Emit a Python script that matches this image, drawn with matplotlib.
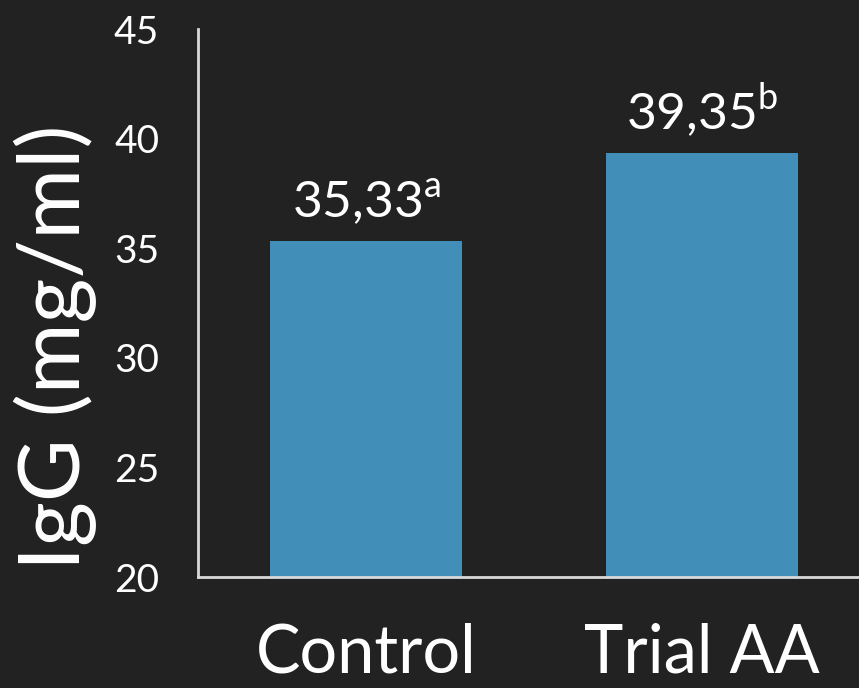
import numpy as np
import matplotlib.pyplot as plt

# data
groups = ['Control', 'Trial AA']
igg = [35.33, 39.35]
labels = ['35,33', '39,35']
letters = ['a', 'b']
yticks = [20, 25, 30, 35, 40, 45]

bg = '#222222'
bar_color = '#418FB8'
fg = 'white'

plt.rcParams['font.family'] = ['Lato', 'DejaVu Sans']
plt.rcParams['mathtext.fontset'] = 'custom'
plt.rcParams['mathtext.rm'] = 'Lato'

fig = plt.figure(figsize=(8.59, 6.88), dpi=100, facecolor=bg)
ax = fig.add_axes([198/859, (688-577)/688, (870-198)/859, (577-29)/688])
ax.set_facecolor(bg)

x = np.arange(len(groups))
ax.bar(x, igg, width=0.57, color=bar_color, zorder=2)

for xi, v, lab, let in zip(x, igg, labels, letters):
    ax.annotate(lab + r'$^{\mathrm{' + let + '}}$', (xi, v), xytext=(0, 16.5),
                textcoords='offset points', ha='center', va='baseline',
                fontsize=37, color=fg)

ax.set_xlim(-0.5, 1.5)
ax.set_ylim(20, 45)
ax.set_yticks(yticks)
ax.set_xticks(x)
ax.set_xticklabels(groups, fontsize=48, color=fg)
ax.tick_params(axis='y', length=0, pad=28, labelsize=28, labelcolor=fg)
ax.tick_params(axis='x', length=0, pad=33)
ax.set_ylabel('IgG (mg/ml)', fontsize=62, color=fg)
ax.yaxis.set_label_coords(-0.151, 0.42)

for s in ['top', 'right']:
    ax.spines[s].set_visible(False)
for s in ['left', 'bottom']:
    ax.spines[s].set_color('#d9d9d9')
    ax.spines[s].set_linewidth(2)

plt.savefig('out.png', dpi=100, facecolor=bg)
